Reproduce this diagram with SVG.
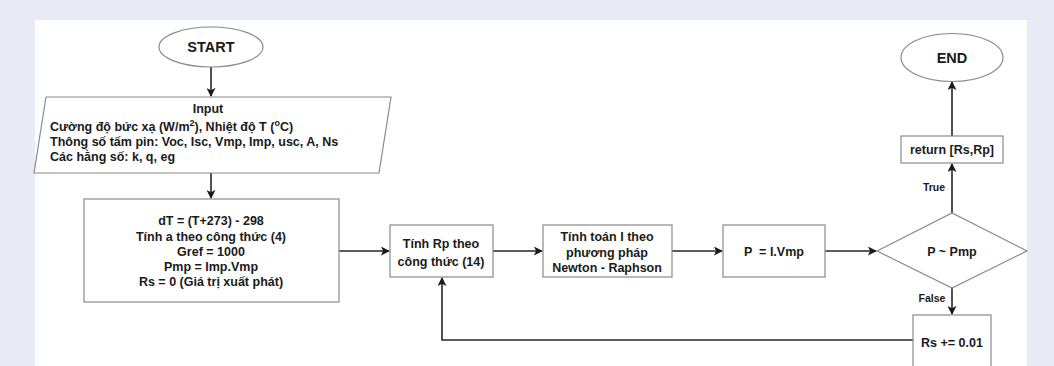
<svg xmlns="http://www.w3.org/2000/svg" width="1054" height="366" viewBox="0 0 1054 366">
<defs>
<style>
.shape{fill:#ffffff;stroke:#8a8a8a;stroke-width:1.2}
.t{font-family:"Liberation Sans",Arial,sans-serif;font-size:12.5px;font-weight:bold;fill:#1a1a1a}
.big{font-size:14.5px}
.c{text-anchor:middle}
.lbl{font-family:"Liberation Sans",Arial,sans-serif;font-size:10.5px;font-weight:bold;fill:#1a1a1a;text-anchor:middle}
.edge{fill:none;stroke:#262626;stroke-width:1.6}
</style>
<marker id="arr" viewBox="0 0 10 10" refX="9" refY="5" markerWidth="9" markerHeight="9" markerUnits="userSpaceOnUse" orient="auto">
<path d="M0,0 L10,5 L0,10 L2.5,5 Z" fill="#1a1a1a"/>
</marker>
</defs>
<rect x="0" y="0" width="1054" height="366" fill="#e8ebf5"/>
<rect x="35" y="20" width="992" height="346" fill="#ffffff"/>

<g id="connectors">
<line class="edge" x1="211" y1="67" x2="211" y2="96" marker-end="url(#arr)"/>
<line class="edge" x1="211" y1="173" x2="211" y2="198" marker-end="url(#arr)"/>
<line class="edge" x1="339" y1="251" x2="389" y2="251" marker-end="url(#arr)"/>
<line class="edge" x1="493" y1="251" x2="542" y2="251" marker-end="url(#arr)"/>
<line class="edge" x1="672" y1="251" x2="722" y2="251" marker-end="url(#arr)"/>
<line class="edge" x1="825" y1="251" x2="876" y2="251" marker-end="url(#arr)"/>
<line class="edge" x1="952" y1="213" x2="952" y2="164" marker-end="url(#arr)"/>
<line class="edge" x1="952" y1="136" x2="952" y2="82" marker-end="url(#arr)"/>
<line class="edge" x1="952" y1="288" x2="952" y2="314" marker-end="url(#arr)"/>
<polyline class="edge" points="913,340 442,340 442,278" marker-end="url(#arr)"/>
<rect x="920" y="180" width="30" height="14" fill="#ffffff"/>
<text class="lbl" x="934" y="191">True</text>
<rect x="915" y="291" width="36" height="14" fill="#ffffff"/>
<text class="lbl" x="932" y="302">False</text>
</g>

<g id="start">
<ellipse class="shape" cx="211" cy="47" rx="52" ry="20"/>
<text class="t big c" x="211" y="52">START</text>
</g>

<g id="input">
<polygon class="shape" points="46,97 391,97 379,173 34,173"/>
<text class="t c" x="208" y="113">Input</text>
<text class="t" x="50" y="131">Cường độ bức xạ (W/m<tspan font-size="9" dy="-5">2</tspan><tspan dy="5">), Nhiệt độ T (</tspan><tspan font-size="9" dy="-5">o</tspan><tspan dy="5">C)</tspan></text>
<text class="t" x="50" y="146">Thông số tấm pin: Voc, Isc, Vmp, Imp, usc, A, Ns</text>
<text class="t" x="50" y="161">Các hằng số: k, q, eg</text>
</g>

<g id="init">
<rect class="shape" x="84" y="199" width="255" height="103"/>
<text class="t c" x="211" y="225">dT = (T+273) - 298</text>
<text class="t c" x="211" y="241">Tính a theo công thức (4)</text>
<text class="t c" x="211" y="256">Gref = 1000</text>
<text class="t c" x="211" y="271">Pmp = Imp.Vmp</text>
<text class="t c" x="211" y="286">Rs = 0 (Giá trị xuất phát)</text>
</g>

<g id="rp">
<rect class="shape" x="390" y="225" width="103" height="52"/>
<text class="t c" x="441" y="248">Tính Rp theo</text>
<text class="t c" x="441" y="266">công thức (14)</text>
</g>

<g id="newton">
<rect class="shape" x="543" y="225" width="129" height="52"/>
<text class="t c" x="607" y="241">Tính toán I theo</text>
<text class="t c" x="607" y="257">phương pháp</text>
<text class="t c" x="607" y="272">Newton - Raphson</text>
</g>

<g id="power">
<rect class="shape" x="723" y="225" width="102" height="52"/>
<text class="t c" x="774" y="256" xml:space="preserve">P  = I.Vmp</text>
</g>

<g id="decision">
<polygon class="shape" points="877,251 952,213 1027,251 952,288"/>
<text class="t c" x="952" y="256">P ~ Pmp</text>
</g>

<g id="return">
<rect class="shape" x="901" y="136" width="102" height="27"/>
<text class="t c" x="952" y="154">return [Rs,Rp]</text>
</g>

<g id="end">
<ellipse class="shape" cx="952" cy="57.5" rx="51" ry="24"/>
<text class="t big c" x="952" y="63">END</text>
</g>

<g id="update">
<rect class="shape" x="913" y="315" width="78" height="56"/>
<text class="t c" x="952" y="347">Rs += 0.01</text>
</g>
</svg>
